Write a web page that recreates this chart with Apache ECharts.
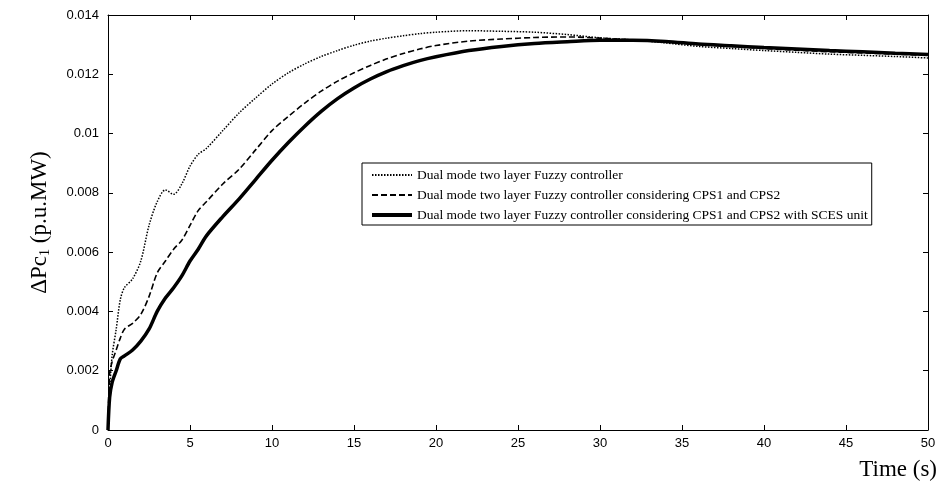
<!DOCTYPE html>
<html>
<head>
<meta charset="utf-8">
<script src="https://cdn.jsdelivr.net/npm/echarts@6/dist/echarts.min.js"></script>
<style>html,body{margin:0;padding:0;background:#fff;}#c{width:944px;height:489px;}</style>
</head>
<body>
<div id="c"></div>
<script>
const timeS = [0,0.1,0.25,0.5,0.75,1,1.5,2,2.5,3,3.5,4,4.5,5,5.5,6,7,8,9,10,11,12,13,14,15,16,17,18,19,20,22,24,26,28,30,32,34,36,38,40,42,44,46,48,50];
const fuzzy = [0,0.0013,0.0025,0.0034,0.0044,0.0048,0.0051,0.0057,0.0069,0.0077,0.0081,0.00795,0.0083,0.0089,0.0093,0.0095,0.0101,0.0107,0.0112,0.01167,0.01205,0.01235,0.0126,0.0128,0.01298,0.01312,0.01322,0.0133,0.01337,0.01342,0.01347,0.01345,0.01342,0.01334,0.01323,0.01316,0.01306,0.01294,0.01287,0.0128,0.01274,0.01268,0.01264,0.0126,0.01255];
const fuzzyCps = [0,0.0019,0.0023,0.0027,0.0031,0.0034,0.0036,0.0039,0.0045,0.0053,0.0057,0.0061,0.0064,0.0069,0.0074,0.0077,0.0083,0.0088,0.00945,0.0101,0.01058,0.01103,0.01143,0.01177,0.01205,0.0123,0.01252,0.0127,0.01285,0.01297,0.01312,0.01319,0.01324,0.01326,0.01322,0.01316,0.0131,0.01301,0.01294,0.01287,0.01281,0.01276,0.01272,0.01268,0.01264];
const fuzzyCpsSces = [0,0.0011,0.0016,0.0020,0.0024,0.0025,0.0027,0.0030,0.0034,0.0040,0.00445,0.0048,0.0052,0.0057,0.0061,0.00655,0.0072,0.0078,0.00845,0.0091,0.0097,0.01025,0.01075,0.01118,0.01154,0.01184,0.01209,0.01229,0.01246,0.01259,0.0128,0.01294,0.01304,0.0131,0.01315,0.01315,0.01311,0.01302,0.01296,0.0129,0.01285,0.0128,0.01276,0.01271,0.01267];
const seriesNames = [
  'Dual mode two layer Fuzzy controller',
  'Dual mode two layer Fuzzy controller considering CPS1 and CPS2',
  'Dual mode two layer Fuzzy controller considering CPS1 and CPS2 with SCES unit'
];

const pair = (vals) => timeS.map((t, i) => [t, vals[i]]);
const chart = echarts.init(document.getElementById('c'), null, {renderer: 'canvas'});
const SERIF = 'Liberation Serif, Times New Roman, serif';
const lblFont = {color: '#000', fontFamily: 'Liberation Sans, Arial', fontSize: 13};
const axLine = {show: true, onZero: false, lineStyle: {color: '#000', width: 1}};
const tick = {show: true, inside: true, length: 5, lineStyle: {color: '#000'}};
chart.setOption({
  animation: false,
  backgroundColor: '#fff',
  grid: {left: 108, right: 16, top: 15, bottom: 59, containLabel: false},
  legend: {
    left: 362, top: 163, orient: 'vertical',
    data: [
      {name: seriesNames[0]},
      {name: seriesNames[1]},
      {name: seriesNames[2], lineStyle: {width: 4}}
    ],
    backgroundColor: '#fff',
    borderColor: '#000', borderWidth: 1, borderRadius: 0,
    padding: [5, 4, 3, 8],
    itemWidth: 40, itemHeight: 13, itemGap: 6,
    itemStyle: {opacity: 0},
    textStyle: {fontFamily: SERIF, fontSize: 13.5, color: '#000'}
  },
  xAxis: [{
    type: 'value', min: 0, max: 50, interval: 5,
    axisLine: axLine, axisTick: tick,
    splitLine: {show: false},
    axisLabel: Object.assign({margin: 7}, lblFont)
  }, {
    type: 'value', position: 'top', min: 0, max: 50, interval: 5,
    axisLine: axLine, axisTick: tick,
    axisLabel: {show: false}, splitLine: {show: false}
  }],
  yAxis: [{
    type: 'value', min: 0, max: 0.014, interval: 0.002,
    axisLine: axLine, axisTick: tick,
    splitLine: {show: false},
    axisLabel: Object.assign({margin: 9, formatter: v => (Math.abs(v) < 1e-12 ? '0' : String(+v.toFixed(3)))}, lblFont),
    name: '{a|ΔPc}{s|1}{a| (p.u.MW)}',
    nameLocation: 'middle', nameRotate: 90, nameGap: 56,
    nameTextStyle: {
      rich: {
        a: {fontFamily: SERIF, fontSize: 23, color: '#000'},
        s: {fontFamily: SERIF, fontSize: 14, color: '#000', verticalAlign: 'bottom', padding: [11, 0, 0, 0]}
      }
    }
  }, {
    type: 'value', position: 'right', min: 0, max: 0.014, interval: 0.002,
    axisLine: axLine, axisTick: tick,
    axisLabel: {show: false}, splitLine: {show: false}
  }],
  graphic: [{
    type: 'text', right: 7, top: 458,
    style: {text: 'Time (s)', fontFamily: SERIF, fontSize: 23, fill: '#000'}
  }],
  series: [{
    name: seriesNames[0], type: 'line', data: pair(fuzzy), showSymbol: false, symbol: 'none',
    smooth: 0.3, lineStyle: {color: '#000', width: 1.5, type: [1.5, 1.5]}, itemStyle: {color: '#000'}, z: 3
  }, {
    name: seriesNames[1], type: 'line', data: pair(fuzzyCps), showSymbol: false, symbol: 'none',
    smooth: 0.3, lineStyle: {color: '#000', width: 1.6, type: [6, 3]}, itemStyle: {color: '#000'}, z: 2
  }, {
    name: seriesNames[2], type: 'line', data: pair(fuzzyCpsSces), showSymbol: false, symbol: 'none',
    smooth: 0.3, lineStyle: {color: '#000', width: 3.5, type: 'solid'}, itemStyle: {color: '#000'}, z: 1
  }]
});
</script>
</body>
</html>
